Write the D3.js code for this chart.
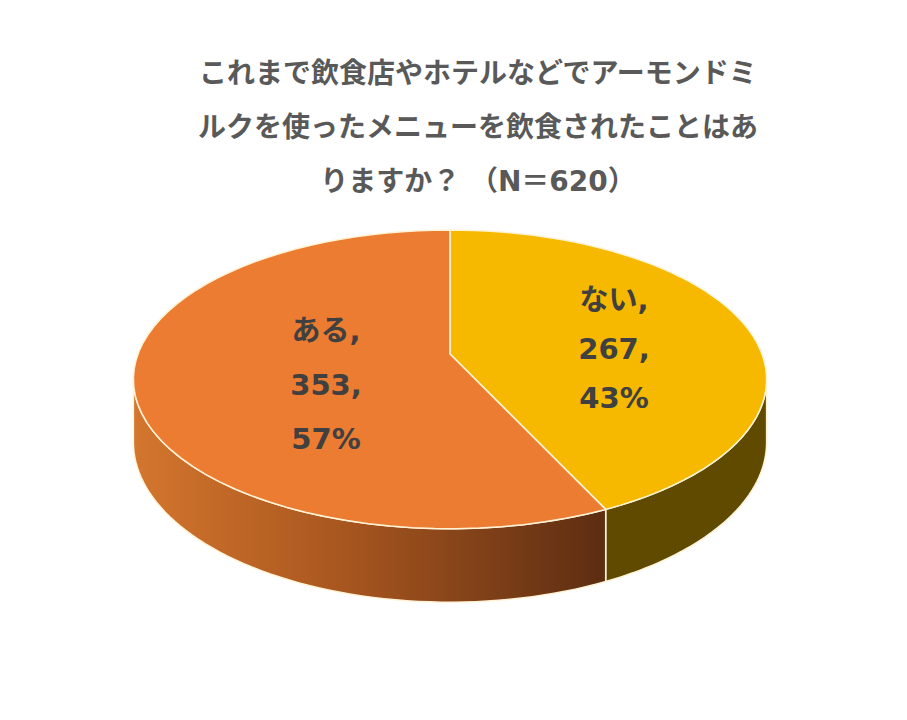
<!DOCTYPE html>
<html><head><meta charset="utf-8">
<script src="https://cdn.jsdelivr.net/npm/d3@7"></script>
<style>body{margin:0;background:#fff}svg{display:block}</style>
</head><body>
<script>
const categories = ["ない", "ある"];
const values = [267, 353];
const percents = ["43%", "57%"];
const titleLines = ["これまで飲食店やホテルなどでアーモンドミ", "ルクを使ったメニューを飲食されたことはあ", "りますか？ （N＝620）"];

const W = 907, H = 720;
const svg = d3.select("body").append("svg").attr("width", W).attr("height", H);
const FONT = "'DejaVu Sans', 'Noto Sans CJK JP', sans-serif";

// perspective projection of the pie disc
const cx = 450, cy = 354, R = 312, S = 145, p = 0.17, depth = 61;
function proj(phi, h) { // phi clockwise from top (radians), h = 0 top, 1 bottom
  const X = Math.sin(phi), Z = Math.cos(phi);
  const w = 1 + p * Z;
  return [cx + R * X / w, cy - S * Z / w + (h ? depth / w : 0)];
}
const line = d3.line();
const sample = (a0, a1, h) => d3.range(0, 61).map(i => proj(a0 + (a1 - a0) * i / 60, h));

const pie = d3.pie().sort(null).value(d => d)(values);
const topColors = ["#F6B900", "#EC7C31"];

const defs = svg.append("defs");
const g1 = defs.append("linearGradient").attr("id", "sideA").attr("gradientUnits", "userSpaceOnUse")
  .attr("x1", 133).attr("x2", 600).attr("y1", 0).attr("y2", 0);
g1.append("stop").attr("offset", 0).attr("stop-color", "#D4762E");
g1.append("stop").attr("offset", 0.45).attr("stop-color", "#A8561F");
g1.append("stop").attr("offset", 1).attr("stop-color", "#5E2E12");
const sideFill = ["#5F4A00", "url(#sideA)"];

const sil = Math.acos(-p);
// side walls
pie.forEach((d, i) => {
  const a0 = Math.max(d.startAngle, sil), a1 = Math.min(d.endAngle, 2 * Math.PI - sil);
  if (a1 <= a0) return;
  const pts = sample(a0, a1, 0).concat(sample(a0, a1, 1).reverse());
  svg.append("path").attr("d", line(pts) + "Z").attr("fill", sideFill[i])
    .attr("stroke", "#FFF3D6").attr("stroke-width", 1.5).attr("stroke-linejoin", "round");
});
// top faces
pie.forEach((d, i) => {
  const pts = [[cx, cy]].concat(sample(d.startAngle, d.endAngle, 0));
  svg.append("path").attr("d", line(pts) + "Z").attr("fill", topColors[i])
    .attr("stroke", "#FFF3D6").attr("stroke-width", 1.5).attr("stroke-linejoin", "round");
});

// labels
const labelPos = [[614, 300, 49], [326, 331, 54]];
pie.forEach((d, i) => {
  const t = svg.append("text").attr("text-anchor", "middle")
    .attr("font-family", FONT).attr("font-weight", "bold")
    .attr("font-size", 29).attr("fill", "#404040");
  const lines = [categories[i] + ",", values[i] + ",", percents[i]];
  lines.forEach((s, k) => t.append("tspan").attr("x", labelPos[i][0])
    .attr("y", labelPos[i][1] + k * labelPos[i][2]).attr("dominant-baseline", "central").text(s));
});

// title
const tt = svg.append("text").attr("text-anchor", "middle")
  .attr("font-family", FONT).attr("font-weight", "bold")
  .attr("font-size", 28).attr("fill", "#595959");
titleLines.forEach((s, k) => tt.append("tspan").attr("x", 478).attr("y", 73 + k * 54)
  .attr("dominant-baseline", "central").text(s));
</script>
</body></html>
